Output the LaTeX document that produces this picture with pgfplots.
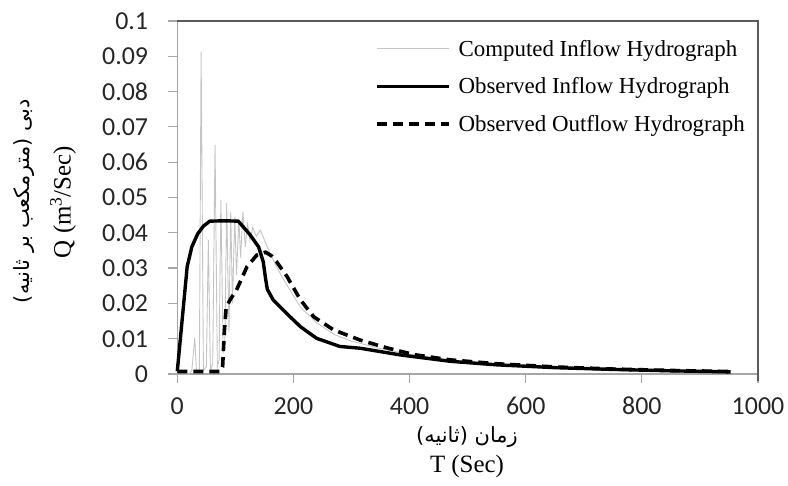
\documentclass[border=0pt]{standalone}
\usepackage{pgfplots}
\pgfplotsset{compat=1.18}
\usepackage{fontspec}
\setmainfont{Liberation Serif}
\newfontfamily\carlito{Carlito}
\newfontfamily\arabicfont[Script=Arabic]{DejaVu Sans}
\TeXXeTstate=1
\definecolor{frameGray}{HTML}{5A5A5A}
\definecolor{axisGray}{HTML}{A6A6A6}
\definecolor{compGray}{HTML}{C4C4C4}

\begin{document}
\begin{tikzpicture}
\useasboundingbox (0,0) rectangle (788bp,486bp);
\begin{axis}[
  at={(177.3bp,112bp)}, anchor=south west,
  width=580.7bp, height=353bp, scale only axis,
  xmin=0, xmax=1000, ymin=0, ymax=0.1,
  xtick={0,200,400,600,800,1000},
  xticklabels={0,200,400,600,800,1000},
  ytick={0,0.01,0.02,0.03,0.04,0.05,0.06,0.07,0.08,0.09,0.1},
  yticklabels={0,0.01,0.02,0.03,0.04,0.05,0.06,0.07,0.08,0.09,0.1},
  tick pos=left, tick align=outside,
  major tick length=9bp,
  tick style={draw=axisGray, line width=1.2bp},
  axis line style={draw=axisGray, line width=1.2bp},
  ticklabel style={font=\carlito\fontsize{26}{26}\selectfont, text=black!85},
  yticklabel style={inner sep=0pt, xshift=-20bp},
  xticklabel style={inner sep=0pt, yshift=-14bp},
  legend style={draw=none, fill=none, at={(0.34,0.952)}, anchor=north west,
    font=\fontsize{23}{23}\selectfont, row sep=16bp, cells={anchor=west},
    inner sep=0pt, /tikz/every odd column/.append style={column sep=6bp}},
  legend image code/.code={\draw[#1] (0bp,0bp) -- (72bp,0bp);},
  clip=false,
]
\addplot[draw=compGray, line width=0.9bp] coordinates {
  (0,0) (20,0) (25,0.001) (30,0.0102) (33,0.001) (38,0.001) (41,0.0913)
  (45,0.001) (50,0.002) (53.5,0.038) (57,0.001) (61,0.003) (65,0.0649)
  (69,0.002) (72,0.004) (75,0.0493) (79,0.006) (82,0.01) (85,0.0484)
  (89,0.012) (92,0.046) (95,0.02) (99,0.0445) (102,0.028) (106,0.044)
  (109,0.033) (113,0.046) (117,0.036) (121,0.0425) (125,0.038) (130,0.0415)
  (136,0.039) (143,0.0408) (150,0.038) (160,0.034) (177,0.0285) (195,0.0235)
  (212,0.019) (240,0.0145) (270,0.0112) (300,0.0093) (350,0.0072)
  (400,0.0056) (470,0.0039) (550,0.0028) (650,0.0019) (750,0.0013)
  (850,0.0009) (953,0.0006)
};
\addlegendentry{Computed Inflow Hydrograph}
\addplot[draw=black, line width=3.4bp, line join=round] coordinates {
  (0,0.0008) (17,0.0304) (25,0.036) (35,0.0397) (45,0.0419) (56,0.0433)
  (80,0.0434) (105,0.0433) (125,0.0395) (140,0.036) (148,0.0318) (152,0.027)
  (155,0.0240) (165,0.021) (188,0.0172) (212,0.0134) (240,0.0101)
  (280,0.0078) (315,0.0073) (384,0.0054) (470,0.0036) (550,0.0026)
  (650,0.0018) (750,0.0013) (850,0.0009) (953,0.0006)
};
\addlegendentry{Observed Inflow Hydrograph}
\addplot[draw=black, line width=3.6bp, dash pattern=on 10bp off 6bp] coordinates {
  (0,0.0007) (74,0.0007) (78,0.002) (81,0.012) (84,0.0185) (90,0.0208)
  (102,0.0238) (120,0.0304) (137,0.0337) (152,0.0345) (162,0.0335)
  (171,0.0318) (189,0.0276) (212,0.021) (235,0.0162) (269,0.0125)
  (315,0.0096) (361,0.0074) (407,0.0055) (470,0.0040) (550,0.0029)
  (650,0.0020) (750,0.0014) (850,0.0010) (953,0.0007)
};
\addlegendentry{Observed Outflow Hydrograph}
\draw[draw=frameGray, line width=1.6bp]
  (rel axis cs:0,1) -- (rel axis cs:1,1) -- (rel axis cs:1,0) -- ++(0,-7bp);
\end{axis}
\node[rotate=90, font=\arabicfont\fontsize{21}{21}\selectfont] at (24bp,285bp)
  {\beginR دبی (مترمکعب بر ثانیه)\endR};
\node[rotate=90, font=\fontsize{25}{25}\selectfont] at (63bp,284bp)
  {Q (m\textsuperscript{3}/Sec)};
\node[font=\arabicfont\fontsize{21}{21}\selectfont] at (467bp,49bp)
  {\beginR زمان (ثانیه)\endR};
\node[font=\fontsize{25}{25}\selectfont] at (467bp,19bp) {T (Sec)};
\end{tikzpicture}
\end{document}
